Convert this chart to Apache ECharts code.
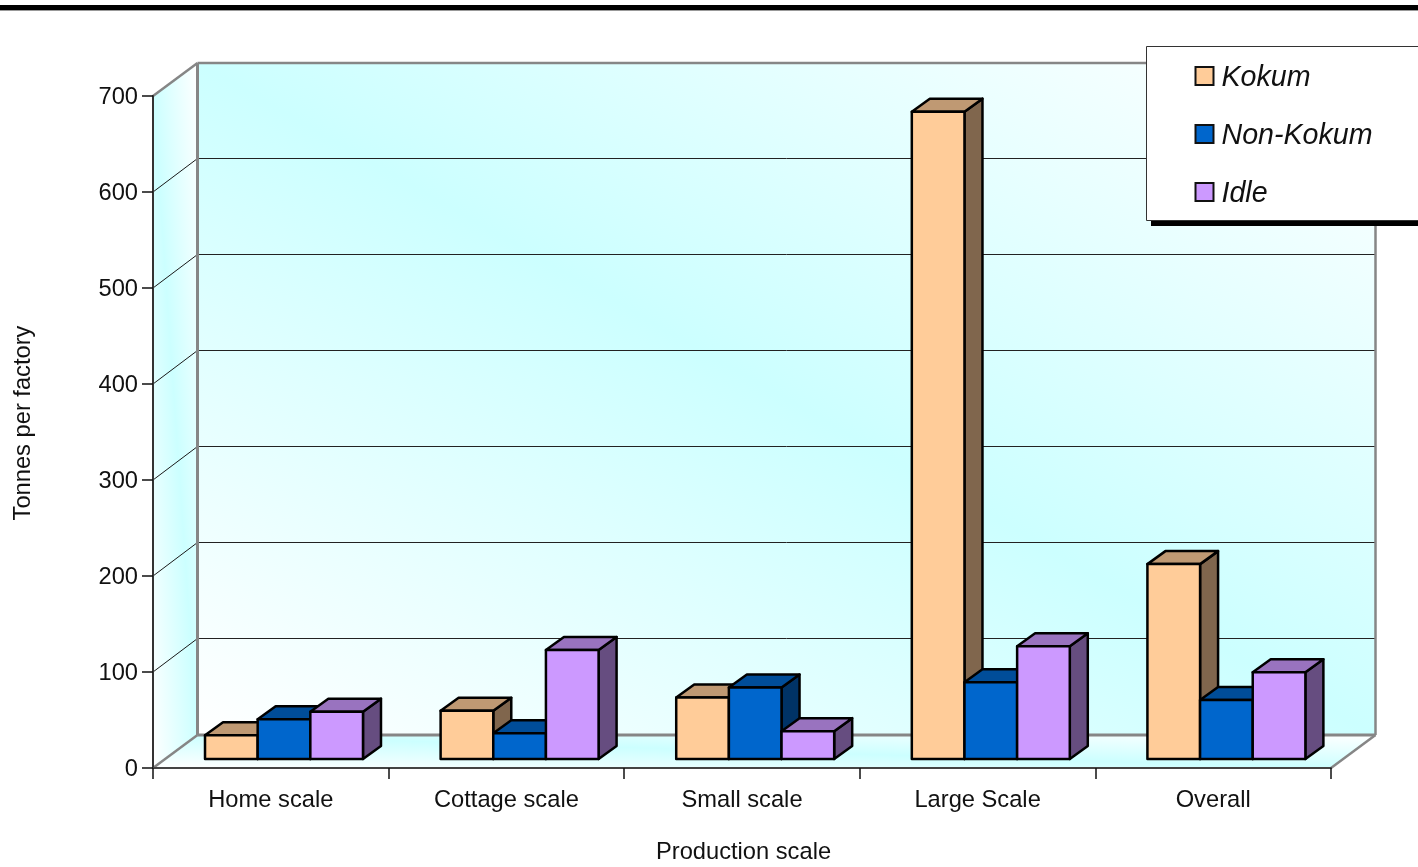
<!DOCTYPE html>
<html>
<head>
<meta charset="utf-8">
<style>html,body{margin:0;padding:0;background:#fff}#chart{width:1418px;height:867px}</style>
<script src="https://cdn.jsdelivr.net/npm/echarts@6/dist/echarts.min.js"></script>
</head>
<body>
<div id="chart"></div>
<script>
const categories = ['Home scale', 'Cottage scale', 'Small scale', 'Large Scale', 'Overall'];
const kokum = [24.7, 50.3, 64, 674.3, 203];
const nonKokum = [41.4, 26.8, 74.5, 80, 61.5];
const idle = [49.3, 113.5, 29, 117.5, 90.3];
const yTicks = [0, 100, 200, 300, 400, 500, 600, 700];

// Oblique projection used for the box walls and the bar volumes
const WALL_DX = 44.5, WALL_DY = -33;
const BAR_SHIFT_X = 13.2, BAR_SHIFT_Y = -9;
const BAR_DX = 18, BAR_DY = -13;
const BAR_FRACTION = 0.2235;
const WALL_EDGE = '#868686';
const CYAN = '#ccffff';

// Diagonal sheen: a cyan band runs from corner tl to corner br, fading to white at the other corners
function sheen(tl, br, bl, tr) {
  const dx = br[0] - tl[0], dy = br[1] - tl[1];
  const len = Math.hypot(dx, dy);
  const nx = dy / len, ny = -dx / len;
  const mx = (tl[0] + br[0]) / 2, my = (tl[1] + br[1]) / 2;
  const reach = Math.abs((bl[0] - mx) * nx + (bl[1] - my) * ny);
  return {
    type: 'linear', global: true,
    x: mx - nx * reach, y: my - ny * reach,
    x2: mx + nx * reach, y2: my + ny * reach,
    colorStops: [
      { offset: 0, color: '#ffffff' },
      { offset: 0.5, color: CYAN },
      { offset: 1, color: '#ffffff' }
    ]
  };
}

function poly(points, fill, extra) {
  return { type: 'polygon', shape: { points }, style: Object.assign({ fill, stroke: 'none' }, extra || {}) };
}
function seg(a, b, stroke, lineWidth) {
  return { type: 'line', shape: { x1: a[0], y1: a[1], x2: b[0], y2: b[1] }, style: { stroke, lineWidth, fill: 'none' } };
}

function renderWalls(params, api) {
  const cs = params.coordSys;
  const x0 = cs.x, x1 = cs.x + cs.width, yBase = cs.y + cs.height, yTop = cs.y;
  const fb = [x0, yBase], ft = [x0, yTop];
  const bb = [x0 + WALL_DX, yBase + WALL_DY], bt = [x0 + WALL_DX, yTop + WALL_DY];
  const rb = [x1 + WALL_DX, yBase + WALL_DY], rt = [x1 + WALL_DX, yTop + WALL_DY];
  const fr = [x1, yBase];
  const children = [
    poly([bt, rt, rb, bb], sheen(bt, rb, bb, rt)),
    poly([ft, bt, bb, fb], sheen(ft, bb, fb, bt)),
    poly([bb, rb, fr, fb], sheen(bb, fr, fb, rb))
  ];
  yTicks.forEach(function (v) {
    if (v === 0 || v === yTicks[yTicks.length - 1]) return;
    const y = api.coord([0, v])[1];
    // half-pixel offset keeps the one-pixel rule crisp
    const backY = y + WALL_DY - 0.5;
    children.push(seg([x0, y], [x0 + WALL_DX, backY], '#1a1a1a', 1));
    children.push(seg([x0 + WALL_DX, backY], [x1 + WALL_DX, backY], '#222222', 1));
  });
  children.push(
    seg(ft, bt, WALL_EDGE, 2.5), seg(bt, rt, WALL_EDGE, 2.5), seg(bt, bb, WALL_EDGE, 3),
    seg(rt, rb, WALL_EDGE, 2.5), seg(bb, rb, WALL_EDGE, 3),
    seg(fb, bb, WALL_EDGE, 2.5), seg(fr, rb, WALL_EDGE, 2.5)
  );
  return { type: 'group', children };
}

function barRenderer(slot, colors) {
  return function (params, api) {
    const catIndex = api.value(0);
    const band = api.size([1, 0])[0];
    const w = band * BAR_FRACTION;
    const top = api.coord([catIndex, api.value(1)]);
    const base = api.coord([catIndex, 0]);
    const left = top[0] + BAR_SHIFT_X + (slot - 1.5) * w;
    const right = left + w;
    const yt = top[1] + BAR_SHIFT_Y, yb = base[1] + BAR_SHIFT_Y;
    const line = { stroke: '#000000', lineWidth: 2.5, lineJoin: 'round' };
    return {
      type: 'group',
      children: [
        poly([[right, yt], [right + BAR_DX, yt + BAR_DY], [right + BAR_DX, yb + BAR_DY], [right, yb]], colors.side, line),
        poly([[left, yt], [left + BAR_DX, yt + BAR_DY], [right + BAR_DX, yt + BAR_DY], [right, yt]], colors.top, line),
        poly([[left, yt], [right, yt], [right, yb], [left, yb]], colors.front, line)
      ]
    };
  };
}

const palette = {
  Kokum: { front: '#ffcc99', top: '#bf9973', side: '#80664d' },
  'Non-Kokum': { front: '#0066cc', top: '#004d99', side: '#003366' },
  Idle: { front: '#cc99ff', top: '#9973bf', side: '#664d80' }
};

function barSeries(name, values, slot) {
  return {
    name, type: 'custom', z: 3, clip: false,
    renderItem: barRenderer(slot, palette[name]),
    itemStyle: { color: palette[name].front },
    encode: { x: 0, y: 1 },
    data: values.map(function (v, i) { return [i, v]; })
  };
}

const FONT = '"Liberation Sans", Arial, sans-serif';
const chart = echarts.init(document.getElementById('chart'), null, { renderer: 'canvas' });
chart.setOption({
  animation: false,
  backgroundColor: '#ffffff',
  grid: { left: 153, right: 87, top: 96, bottom: 99, outerBoundsMode: 'none' },
  xAxis: {
    type: 'category', data: categories, z: 1,
    name: 'Production scale', nameLocation: 'middle', nameGap: 72,
    nameTextStyle: { fontFamily: FONT, fontSize: 23.7, color: '#111111', padding: [0, 0, 0, 3] },
    axisLine: { lineStyle: { color: '#444444', width: 2 } },
    axisTick: { show: true, length: 11, alignWithLabel: false, lineStyle: { color: '#111111', width: 1.5 } },
    axisLabel: { fontFamily: FONT, fontSize: 23.7, color: '#111111', margin: 20, interval: 0 },
    splitLine: { show: false }
  },
  yAxis: {
    type: 'value', min: 0, max: 700, interval: 100, z: 1,
    name: 'Tonnes per factory', nameLocation: 'middle', nameGap: 118,
    nameTextStyle: { fontFamily: FONT, fontSize: 23.7, color: '#111111', padding: [0, 0, 0, 18] },
    axisLine: { show: true, lineStyle: { color: '#333333', width: 2 } },
    axisTick: { show: true, length: 11, lineStyle: { color: '#111111', width: 1.5 } },
    axisLabel: { fontFamily: FONT, fontSize: 23.7, color: '#111111', margin: 15, verticalAlign: 'top', padding: [-10.5, 0, 0, 0] },
    splitLine: { show: false }
  },
  legend: {
    orient: 'vertical', left: 1147, top: 46, z: 20,
    data: Object.keys(palette).map(function (name) {
      return { name, icon: 'rect', itemStyle: { color: palette[name].front, borderColor: '#111111', borderWidth: 2 } };
    }),
    selectedMode: false,
    itemWidth: 18, itemHeight: 18, itemGap: 26,
    padding: [15, 60, 13, 47.5],
    formatter: '{t|{name}}',
    textStyle: {
      rich: {
        t: { fontFamily: FONT, fontStyle: 'italic', fontSize: 28.6, color: '#111111', lineHeight: 30, verticalAlign: 'top', padding: [3, 0, 0, 3] }
      }
    }
  },
  graphic: [
    { type: 'rect', left: 0, top: 5, shape: { width: 1418, height: 5 }, style: { fill: '#000000' } },
    { type: 'rect', left: 0, top: 10, shape: { width: 1418, height: 1 }, style: { fill: '#999999' } },
    // Legend panel with its hard drop shadow, running off the right edge
    { type: 'rect', z: 15, x: 1151, y: 50, shape: { width: 280, height: 176 }, style: { fill: '#000000' } },
    { type: 'rect', z: 16, x: 1146.5, y: 46.5, shape: { width: 290, height: 174 }, style: { fill: '#ffffff', stroke: '#333333', lineWidth: 1 } }
  ],
  series: [
    { name: 'walls', type: 'custom', z: 0, clip: false, silent: true, renderItem: renderWalls, data: [[0, 0]], encode: { x: 0, y: 1 } },
    barSeries('Kokum', kokum, 0),
    barSeries('Non-Kokum', nonKokum, 1),
    barSeries('Idle', idle, 2)
  ]
});
</script>
</body>
</html>
